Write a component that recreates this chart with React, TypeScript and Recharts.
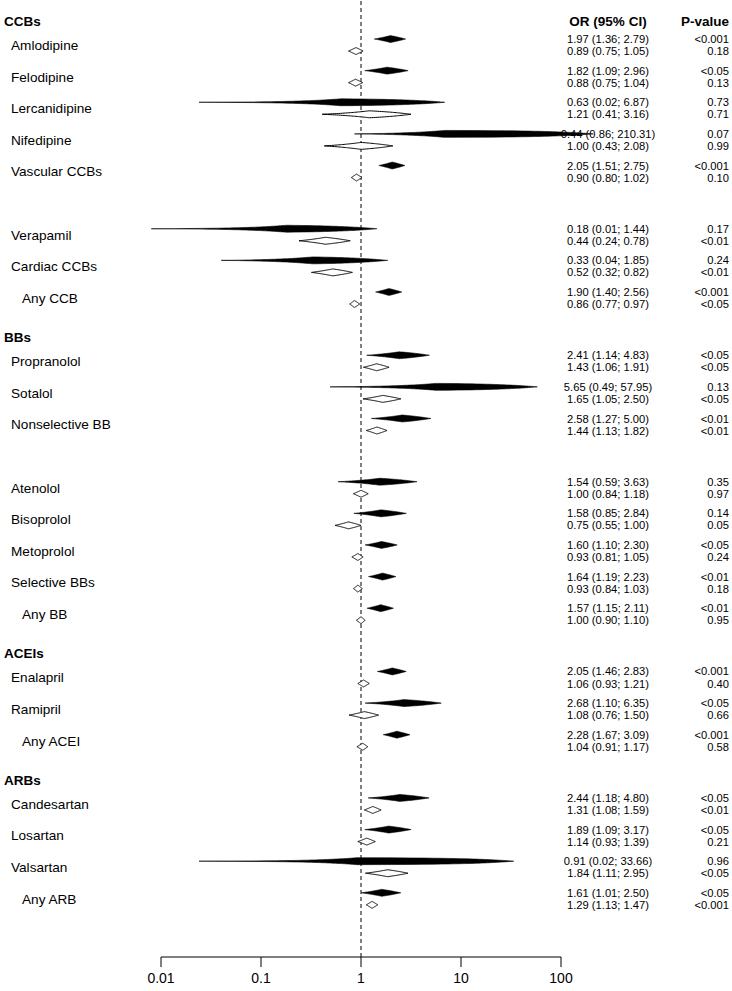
import { ComposedChart, XAxis, YAxis, Scatter, ReferenceLine } from 'recharts';

const FONT = '"Liberation Sans", Arial, Helvetica, sans-serif';

const groups = ['CCBs', 'BBs', 'ACEIs', 'ARBs'];
// '' marks an empty spacer row inside a group
const groupDrugs = [
  ['Amlodipine', 'Felodipine', 'Lercanidipine', 'Nifedipine', 'Vascular CCBs', '', 'Verapamil', 'Cardiac CCBs', 'Any CCB'],
  ['Propranolol', 'Sotalol', 'Nonselective BB', '', 'Atenolol', 'Bisoprolol', 'Metoprolol', 'Selective BBs', 'Any BB'],
  ['Enalapril', 'Ramipril', 'Any ACEI'],
  ['Candesartan', 'Losartan', 'Valsartan', 'Any ARB'],
];

// filled diamonds (upper row of each pair)
const curOR = [1.97, 1.82, 0.63, 6.9, 2.05, 0.18, 0.33, 1.9, 2.41, 5.65, 2.58, 1.54, 1.58, 1.6, 1.64, 1.57, 2.05, 2.68, 2.28, 2.44, 1.89, 0.91, 1.61];
const curLo = [1.36, 1.09, 0.024, 0.86, 1.51, 0.008, 0.04, 1.4, 1.14, 0.49, 1.27, 0.59, 0.85, 1.1, 1.19, 1.15, 1.46, 1.1, 1.67, 1.18, 1.09, 0.024, 1.01];
const curHi = [2.79, 2.96, 6.87, 210.31, 2.75, 1.44, 1.85, 2.56, 4.83, 57.95, 5.0, 3.63, 2.84, 2.3, 2.23, 2.11, 2.83, 6.35, 3.09, 4.8, 3.17, 33.66, 2.5];
const curP = ['<0.001', '<0.05', '0.73', '0.07', '<0.001', '0.17', '0.24', '<0.001', '<0.05', '0.13', '<0.01', '0.35', '0.14', '<0.05', '<0.01', '<0.01', '<0.001', '<0.05', '<0.001', '<0.05', '<0.05', '0.96', '<0.05'];

// open diamonds (lower row of each pair)
const pastOR = [0.89, 0.88, 1.21, 1.0, 0.9, 0.44, 0.52, 0.86, 1.43, 1.65, 1.44, 1.0, 0.75, 0.93, 0.93, 1.0, 1.06, 1.08, 1.04, 1.31, 1.14, 1.84, 1.29];
const pastLo = [0.75, 0.75, 0.41, 0.43, 0.8, 0.24, 0.32, 0.77, 1.06, 1.05, 1.13, 0.84, 0.55, 0.81, 0.84, 0.9, 0.93, 0.76, 0.91, 1.08, 0.93, 1.11, 1.13];
const pastHi = [1.05, 1.04, 3.16, 2.08, 1.02, 0.78, 0.82, 0.97, 1.91, 2.5, 1.82, 1.18, 1.0, 1.05, 1.03, 1.1, 1.21, 1.5, 1.17, 1.59, 1.39, 2.95, 1.47];
const pastP = ['0.18', '0.13', '0.71', '0.99', '0.10', '<0.01', '<0.01', '<0.05', '<0.05', '<0.05', '<0.01', '0.97', '0.05', '0.24', '0.18', '0.95', '0.40', '0.66', '0.58', '<0.01', '0.21', '<0.05', '<0.001'];

// estimate as printed in the original table (differs from the drawn diamond)
const printedOR: Record<string, string> = { Nifedipine: '0.44' };

const xTicks = [0.01, 0.1, 1, 10, 100];

const Y_MIN = -0.424;
const Y_MAX = 29.84;
const ROW_OFF = 0.19;
const HEAD_OFF = 0.24;
const HALF_H = 0.11;

type Spec = { left?: string; head?: boolean; ci?: string; p?: string };

const fmt = (v: number) => v.toFixed(2);

// layout rows
const specs = new Map<string, Spec & { v: number }>();
const addSpec = (v: number, s: Spec) => {
  const k = v.toFixed(3);
  specs.set(k, { ...(specs.get(k) || { v }), ...s });
};

const drugRows: { name: string; slot: number; d: number }[] = [];
let slot = 0;
let d = 0;
groups.forEach((g, gi) => {
  addSpec(slot + HEAD_OFF, { left: g, head: true });
  if (gi === 0) addSpec(slot + HEAD_OFF, { ci: 'OR (95% CI)', p: 'P-value', head: true });
  slot++;
  groupDrugs[gi].forEach((name) => {
    if (name) {
      drugRows.push({ name, slot, d });
      addSpec(slot, { left: name });
      const ci1 = `${printedOR[name] ?? fmt(curOR[d])} (${fmt(curLo[d])}; ${fmt(curHi[d])})`;
      addSpec(slot - ROW_OFF, { ci: ci1, p: curP[d] });
      addSpec(slot + ROW_OFF, { ci: `${fmt(pastOR[d])} (${fmt(pastLo[d])}; ${fmt(pastHi[d])})`, p: pastP[d] });
      d++;
    }
    slot++;
  });
});

const yTicks = Array.from(specs.values()).map((s) => s.v);

function diamond(or: number, lo: number, hi: number, yc: number) {
  const n = 30;
  const pts: { x: number; y: number }[] = [];
  for (let i = 0; i <= n; i++) { const t = i / n; pts.push({ x: lo + (or - lo) * t, y: yc - HALF_H * t }); }
  for (let i = 1; i <= n; i++) { const t = i / n; pts.push({ x: or + (hi - or) * t, y: yc - HALF_H * (1 - t) }); }
  for (let i = 1; i <= n; i++) { const t = i / n; pts.push({ x: hi + (or - hi) * t, y: yc + HALF_H * t }); }
  for (let i = 1; i <= n; i++) { const t = i / n; pts.push({ x: or + (lo - or) * t, y: yc + HALF_H * (1 - t) }); }
  return pts;
}

const RowTick = (props: any) => {
  const { y, payload } = props;
  const s = specs.get(Number(payload.value).toFixed(3));
  if (!s) return <g />;
  const indent = s.left && s.left.startsWith('Any ') ? 22 : 11;
  return (
    <g>
      {s.left && (
        <text x={s.head ? 4 : indent} y={y} dy="0.36em" fontFamily={FONT} fontSize={s.head ? 13.5 : 13.6}
          fontWeight={s.head ? 'bold' : 'normal'} fill="#000">{s.left}</text>
      )}
      {s.ci && (
        <text x={608} y={y} dy="0.36em" textAnchor="middle" fontFamily={FONT} fontSize={s.head ? 13.5 : 11.2}
          fontWeight={s.head ? 'bold' : 'normal'} fill="#000">{s.ci}</text>
      )}
      {s.p && (
        <text x={729} y={y} dy="0.36em" textAnchor="end" fontFamily={FONT} fontSize={s.head ? 13.5 : 11.2}
          fontWeight={s.head ? 'bold' : 'normal'} fill="#000">{s.p}</text>
      )}
    </g>
  );
};

const noDot = () => <g />;

export default function App() {
  return (
    <div style={{ position: 'absolute', left: 0, top: 0, background: '#fff' }}>
      <ComposedChart width={732} height={991} margin={{ top: 0, right: 121, bottom: 0, left: 110 }}>
        <XAxis
          dataKey="x"
          type="number"
          scale="log"
          domain={[Math.pow(10, -2.5), Math.pow(10, 2.5)]}
          ticks={xTicks}
          interval={0}
          axisLine={false}
          tickLine={{ stroke: '#000' }}
          tickSize={10}
          tickMargin={6}
          height={34}
          tick={{ fill: '#000', fontSize: 14, fontFamily: FONT }}
        />
        <YAxis
          dataKey="y"
          type="number"
          domain={[Y_MIN, Y_MAX]}
          reversed
          width={1}
          axisLine={false}
          tickLine={false}
          ticks={yTicks}
          interval={0}
          tick={(p: any) => <RowTick {...p} />}
        />
        <ReferenceLine x={1} stroke="#000" strokeDasharray="4 3" />
        <ReferenceLine
          segment={[{ x: xTicks[0], y: Y_MAX }, { x: xTicks[xTicks.length - 1], y: Y_MAX }]}
          stroke="#000"
          ifOverflow="visible"
        />
        {drugRows.map((r) => (
          <Scatter
            key={`c-${r.d}`}
            data={diamond(curOR[r.d], curLo[r.d], curHi[r.d], r.slot - ROW_OFF)}
            shape={noDot}
            line={{ fill: '#000', stroke: '#000', strokeWidth: 0.6 }}
            isAnimationActive={false}
          />
        ))}
        {drugRows.map((r) => (
          <Scatter
            key={`p-${r.d}`}
            data={diamond(pastOR[r.d], pastLo[r.d], pastHi[r.d], r.slot + ROW_OFF)}
            shape={noDot}
            line={{ fill: '#fff', stroke: '#000', strokeWidth: 1 }}
            isAnimationActive={false}
          />
        ))}
      </ComposedChart>
    </div>
  );
}
